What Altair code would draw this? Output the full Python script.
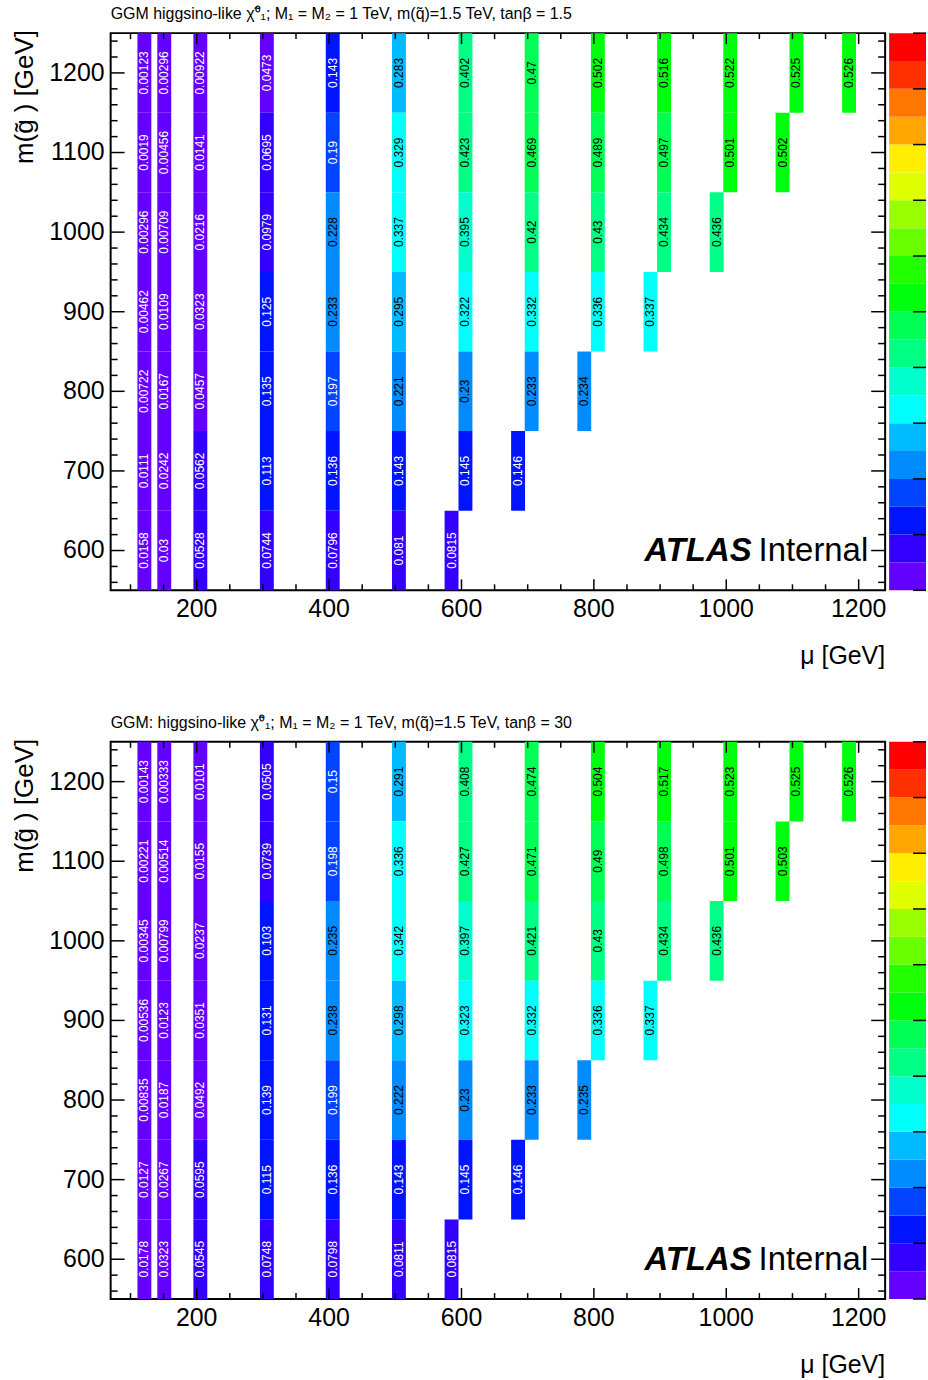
import altair as alt
import pandas as pd

# ---------------- data ----------------
# mu bin centres (GeV) of every column of cells
MU_COLUMNS = [121, 151, 205.5, 306, 405.5, 505.5, 585, 606, 685.5, 706,
              785.5, 806, 885.5, 906, 985.5, 1006, 1085, 1106, 1185.5]
# highest and lowest gluino mass (GeV) filled in each column
MG_HIGHEST = [1200, 1200, 1200, 1200, 1200, 1200, 600, 1200, 700, 1200,
              800, 1200, 900, 1200, 1000, 1200, 1100, 1200, 1200]
MG_LOWEST = [600, 600, 600, 600, 600, 600, 600, 700, 700, 800,
             800, 900, 900, 1000, 1000, 1100, 1100, 1200, 1200]

# efficiencies, per column, from the top row (m_gluino = 1200) downwards
EFF_TANB_1P5 = [
    [0.00123, 0.0019, 0.00296, 0.00462, 0.00722, 0.0111, 0.0158],
    [0.00296, 0.00456, 0.00709, 0.0109, 0.0167, 0.0242, 0.03],
    [0.00922, 0.0141, 0.0216, 0.0323, 0.0457, 0.0562, 0.0528],
    [0.0473, 0.0695, 0.0979, 0.125, 0.135, 0.113, 0.0744],
    [0.143, 0.19, 0.228, 0.233, 0.197, 0.136, 0.0796],
    [0.283, 0.329, 0.337, 0.295, 0.221, 0.143, 0.081],
    [0.0815],
    [0.402, 0.423, 0.395, 0.322, 0.23, 0.145],
    [0.146],
    [0.47, 0.469, 0.42, 0.332, 0.233],
    [0.234],
    [0.502, 0.489, 0.43, 0.336],
    [0.337],
    [0.516, 0.497, 0.434],
    [0.436],
    [0.522, 0.501],
    [0.502],
    [0.525],
    [0.526],
]
EFF_TANB_30 = [
    [0.00143, 0.00221, 0.00345, 0.00536, 0.00835, 0.0127, 0.0178],
    [0.00333, 0.00514, 0.00799, 0.0123, 0.0187, 0.0267, 0.0323],
    [0.0101, 0.0155, 0.0237, 0.0351, 0.0492, 0.0595, 0.0545],
    [0.0505, 0.0739, 0.103, 0.131, 0.139, 0.115, 0.0748],
    [0.15, 0.198, 0.235, 0.238, 0.199, 0.136, 0.0798],
    [0.291, 0.336, 0.342, 0.298, 0.222, 0.143, 0.0811],
    [0.0815],
    [0.408, 0.427, 0.397, 0.323, 0.23, 0.145],
    [0.146],
    [0.474, 0.471, 0.421, 0.332, 0.233],
    [0.235],
    [0.504, 0.49, 0.43, 0.336],
    [0.337],
    [0.517, 0.498, 0.434],
    [0.436],
    [0.523, 0.501],
    [0.503],
    [0.525],
    [0.526],
]

TITLES = [
    "GGM higgsino-like \u03c7\u0303\u2070\u2081; M\u2081 = M\u2082 = 1 TeV, m(q\u0303)=1.5 TeV, tan\u03b2 = 1.5",
    "GGM: higgsino-like \u03c7\u0303\u2070\u2081; M\u2081 = M\u2082 = 1 TeV, m(q\u0303)=1.5 TeV, tan\u03b2 = 30",
]
X_TITLE = "\u03bc [GeV]"
Y_TITLE = "m(g\u0303 ) [GeV]"

# colour palette (20 contours between 0 and 1)
PALETTE = ['#6300ff', '#3300ff', '#0014ff', '#0044ff', '#008bff', '#00bbff',
           '#00fffb', '#00ffcc', '#00ff85', '#00ff55', '#00ff0e', '#22ff00',
           '#69ff00', '#99ff00', '#e0ff00', '#ffee00', '#ffa700', '#ff7700',
           '#ff3000', '#ff0000']
Z_EDGES = [0.0, 0.05, 0.1, 0.15, 0.2, 0.25, 0.3, 0.35, 0.4, 0.45, 0.5,
           0.55, 0.6, 0.65, 0.7, 0.75, 0.8, 0.85, 0.9, 0.95, 1.0]
Z_TICKS = [0.0, 0.1, 0.2, 0.3, 0.4, 0.5, 0.6, 0.7, 0.8, 0.9, 1.0]

X_RANGE = [70, 1240]
Y_RANGE = [550, 1250]
X_MAJOR = [200, 400, 600, 800, 1000, 1200]
X_MINOR = [100, 150, 250, 300, 350, 450, 500, 550, 650, 700, 750, 850, 900,
           950, 1050, 1100, 1150]
Y_MAJOR = [600, 700, 800, 900, 1000, 1100, 1200]
Y_MINOR = [560, 580, 620, 640, 660, 680, 720, 740, 760, 780, 820, 840, 860,
           880, 920, 940, 960, 980, 1020, 1040, 1060, 1080, 1120, 1140, 1160,
           1180, 1220, 1240]

BIN_W = 21.0   # GeV, width of a mu bin
BIN_H = 100.0  # GeV, height of a gluino-mass bin

# ---------------- layout constants ----------------
W, H = 777, 559
FONT = "Liberation Sans"
MAJ_X, MIN_X = 11, 6
MAJ_Y, MIN_Y = 14, 7
LABEL_SIZE = 25

XS = alt.Scale(domain=X_RANGE, nice=False, zero=False)
YS = alt.Scale(domain=Y_RANGE, nice=False, zero=False)
ZS = alt.Scale(type="threshold", domain=Z_EDGES[1:-1], range=PALETTE)


def cells_frame(eff):
    rows = []
    for mu, hi, lo, vals in zip(MU_COLUMNS, MG_HIGHEST, MG_LOWEST, eff):
        mgs = list(range(hi, lo - 1, -100))
        for mg, v in zip(mgs, vals):
            rows.append({"mu": mu, "mg": mg, "eff": v,
                         "x0": mu - BIN_W / 2, "x1": mu + BIN_W / 2,
                         "y0": mg - BIN_H / 2, "y1": mg + BIN_H / 2})
    return pd.DataFrame(rows)


def tick_layers():
    layers = []
    for vals, ln in ((X_MAJOR, MAJ_X), (X_MINOR, MIN_X)):
        d = pd.DataFrame({"v": vals})
        b = alt.Chart(d).mark_rule(color="black", strokeWidth=1.5)
        layers.append(b.encode(x=alt.X("v:Q", scale=XS, axis=None),
                               y=alt.value(H), y2=alt.value(H - ln)))
        layers.append(b.encode(x=alt.X("v:Q", scale=XS, axis=None),
                               y=alt.value(0), y2=alt.value(ln)))
    for vals, ln in ((Y_MAJOR, MAJ_Y), (Y_MINOR, MIN_Y)):
        d = pd.DataFrame({"v": vals})
        b = alt.Chart(d).mark_rule(color="black", strokeWidth=1.5)
        layers.append(b.encode(y=alt.Y("v:Q", scale=YS, axis=None),
                               x=alt.value(0), x2=alt.value(ln)))
        layers.append(b.encode(y=alt.Y("v:Q", scale=YS, axis=None),
                               x=alt.value(W), x2=alt.value(W - ln)))
    return layers


def axis_text_layers():
    xl = alt.Chart(pd.DataFrame({"v": X_MAJOR})).mark_text(
        font=FONT, fontSize=LABEL_SIZE, align="center", baseline="alphabetic",
        color="black",
    ).encode(x=alt.X("v:Q", scale=XS, axis=None), y=alt.value(H + 27),
             text=alt.Text("v:Q", format="d"))
    yl = alt.Chart(pd.DataFrame({"v": Y_MAJOR})).mark_text(
        font=FONT, fontSize=LABEL_SIZE, align="right", baseline="middle",
        color="black",
    ).encode(y=alt.Y("v:Q", scale=YS, axis=None), x=alt.value(-6),
             text=alt.Text("v:Q", format="d"))
    xt = alt.Chart(pd.DataFrame({"t": [X_TITLE]})).mark_text(
        font=FONT, fontSize=LABEL_SIZE, align="right", baseline="alphabetic",
        color="black",
    ).encode(x=alt.value(W), y=alt.value(H + 74), text="t:N")
    yt = alt.Chart(pd.DataFrame({"t": [Y_TITLE]})).mark_text(
        font=FONT, fontSize=26, align="right", baseline="middle",
        angle=270, color="black",
    ).encode(x=alt.value(-86), y=alt.value(-3), text="t:N")
    return [xl, yl, xt, yt]


def palette_layers():
    pal = pd.DataFrame({"z0": Z_EDGES[:-1], "z1": Z_EDGES[1:], "c": PALETTE})
    span = Y_RANGE[1] - Y_RANGE[0]
    bands = alt.Chart(pal).transform_calculate(
        ylo=f"{Y_RANGE[0]} + datum.z0 * {span}",
        yhi=f"{Y_RANGE[0]} + datum.z1 * {span}",
    ).mark_rect().encode(
        x=alt.value(W + 4), x2=alt.value(W + 41),
        y=alt.Y("ylo:Q", scale=YS, axis=None), y2="yhi:Q",
        fill=alt.Fill("c:N", scale=None),
    )
    zt = alt.Chart(pd.DataFrame({"z": Z_TICKS})).transform_calculate(
        yz=f"{Y_RANGE[0]} + datum.z * {span}"
    ).mark_rule(color="black", strokeWidth=1.5).encode(
        y=alt.Y("yz:Q", scale=YS, axis=None),
        x=alt.value(W + 28), x2=alt.value(W + 41),
    )
    return [bands, zt]


def panel(eff, title):
    df = cells_frame(eff)
    base = alt.Chart(df)
    rects = base.mark_rect(strokeWidth=0).encode(
        x=alt.X("x0:Q", scale=XS, axis=None), x2="x1:Q",
        y=alt.Y("y0:Q", scale=YS, axis=None), y2="y1:Q",
        color=alt.Color("eff:Q", scale=ZS, legend=None),
    )
    labels = base.mark_text(font=FONT, fontSize=12, angle=270,
                            align="center", baseline="middle").encode(
        x=alt.X("mu:Q", scale=XS, axis=None),
        y=alt.Y("mg:Q", scale=YS, axis=None),
        text=alt.Text("eff:Q", format=".3~g"),
        color=alt.condition("datum.eff >= 0.2", alt.value("black"),
                            alt.value("white")),
    )
    atlas = alt.Chart(pd.DataFrame({"t": ["ATLAS"]})).mark_text(
        font=FONT, fontSize=33, fontStyle="italic", fontWeight="bold",
        align="right", baseline="alphabetic", color="black",
    ).encode(x=alt.value(643), y=alt.value(530), text="t:N")
    internal = alt.Chart(pd.DataFrame({"t": ["Internal"]})).mark_text(
        font=FONT, fontSize=33, align="left", baseline="alphabetic",
        color="black",
    ).encode(x=alt.value(650), y=alt.value(530), text="t:N")
    ttl = alt.Chart(pd.DataFrame({"t": [title]})).mark_text(
        font=FONT, fontSize=16, align="left", baseline="alphabetic",
        color="black",
    ).encode(x=alt.value(0), y=alt.value(-14), text="t:N")

    layers = ([rects, labels] + tick_layers() + axis_text_layers()
              + palette_layers() + [atlas, internal, ttl])
    return alt.layer(*layers).properties(width=W, height=H)


chart = alt.vconcat(
    panel(EFF_TANB_1P5, TITLES[0]),
    panel(EFF_TANB_30, TITLES[1]),
    spacing=44,
).properties(
    padding={"left": 11, "top": 3, "right": 0, "bottom": 0},
    background="white",
).configure_view(stroke="black", strokeWidth=2)

chart.save("out.html", embed_options={"renderer": "svg", "actions": False})
